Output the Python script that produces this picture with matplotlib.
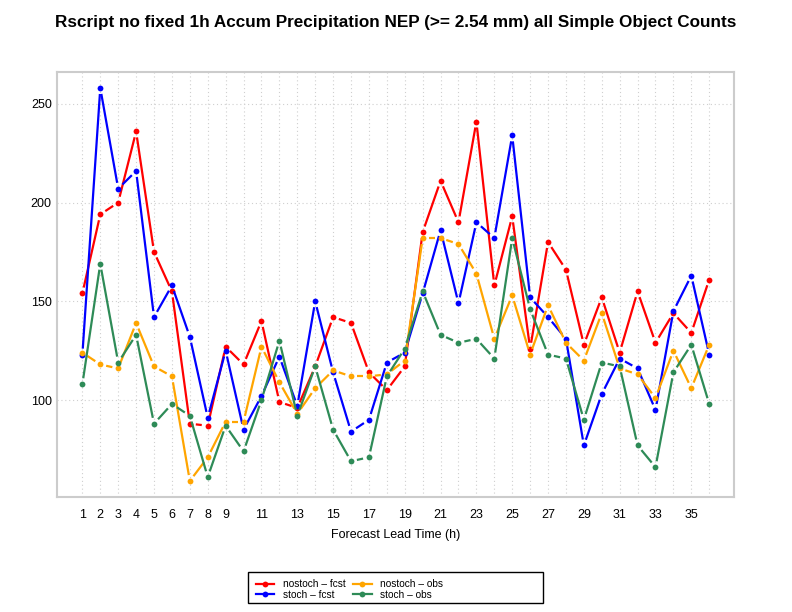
import numpy as np
import matplotlib
matplotlib.use("Agg")
import matplotlib.pyplot as plt
from matplotlib.legend_handler import HandlerLine2D
from matplotlib.patches import Rectangle

plt.rcParams['font.family'] = ['Liberation Sans', 'DejaVu Sans']

title = "Rscript no fixed 1h Accum Precipitation NEP (>= 2.54 mm) all Simple Object Counts"
xlabel = "Forecast Lead Time (h)"

lead = list(range(1, 37))
nostoch_fcst = [154, 194, 200, 236, 175, 155, 88, 87, 127, 118, 140, 99, 96, 117, 142, 139, 114, 105,
                117, 185, 211, 190, 241, 158, 193, 126, 180, 166, 128, 152, 124, 155, 129, 144, 134, 161]
stoch_fcst = [123, 258, 207, 216, 142, 158, 132, 91, 125, 85, 102, 122, 97, 150, 114, 84, 90, 119,
              124, 154, 186, 149, 190, 182, 234, 152, 142, 131, 77, 103, 121, 116, 95, 145, 163, 123]
nostoch_obs = [124, 118, 116, 139, 117, 112, 59, 71, 89, 89, 127, 109, 93, 106, 115, 112, 112, 113,
               120, 182, 182, 179, 164, 131, 153, 123, 148, 129, 120, 144, 116, 113, 101, 125, 106, 128]
stoch_obs = [108, 169, 119, 133, 88, 98, 92, 61, 87, 74, 100, 130, 92, 117, 85, 69, 71, 112,
             126, 155, 133, 129, 131, 121, 182, 146, 123, 121, 90, 119, 117, 77, 66, 114, 128, 98]

series_names = ["nostoch \u2013 fcst", "stoch \u2013 fcst", "nostoch \u2013 obs", "stoch \u2013 obs"]
series_values = [nostoch_fcst, stoch_fcst, nostoch_obs, stoch_obs]
series_colors = ["#FF0000", "#0000FF", "#FFA500", "#2E8B57"]

xtick_labels = ["1", "2", "3", "4", "5", "6", "7", "8", "9", "", "11", "", "13", "", "15", "", "17", "",
                "19", "", "21", "", "23", "", "25", "", "27", "", "29", "", "31", "", "33", "", "35", ""]
yticks = [100, 150, 200, 250]

fig = plt.figure(figsize=(7.92, 6.12), dpi=100)
ax = fig.add_axes([57.3 / 792, 1 - 496.7 / 612, (734.3 - 57.3) / 792, (496.7 - 72.3) / 612])

allv = np.concatenate([np.array(v) for v in series_values])
xr = (min(lead), max(lead))
yr = (allv.min(), allv.max())
ax.set_xlim(xr[0] - 0.04 * (xr[1] - xr[0]), xr[1] + 0.04 * (xr[1] - xr[0]))
ax.set_ylim(yr[0] - 0.04 * (yr[1] - yr[0]), yr[1] + 0.04 * (yr[1] - yr[0]))

ax.set_xticks(lead)
ax.set_xticklabels(xtick_labels)
ax.set_yticks(yticks)
ax.tick_params(length=0, labelsize=9, colors='black')
ax.tick_params(axis='x', pad=9)
ax.tick_params(axis='y', pad=4)
ax.grid(True, linestyle=(0, (1, 2.5)), color='#cfcfcf', linewidth=0.8)
ax.set_axisbelow(True)
for sp in ax.spines.values():
    sp.set_color('#cccccc')
    sp.set_linewidth(1.5)

gap = 6.0  # pixels
lw = 1.6
ms = 4.2
inv = ax.transData.inverted()
for name, vals, col in zip(series_names, series_values, series_colors):
    pts = ax.transData.transform(np.column_stack([lead, vals]))
    for i in range(len(pts) - 1):
        p0, p1 = pts[i], pts[i + 1]
        d = p1 - p0
        L = np.hypot(*d)
        if L <= 2 * gap:
            continue
        u = d / L
        a = inv.transform(p0 + u * gap)
        b = inv.transform(p1 - u * gap)
        ax.plot([a[0], b[0]], [a[1], b[1]], color=col, lw=lw, solid_capstyle='butt')
    ax.plot(lead, vals, linestyle='none', marker='o', color=col, markersize=ms,
            markeredgewidth=0)

fig.text(0.5, 1 - 22 / 612, title, ha='center', va='center', fontsize=12.3, fontweight='bold')
fig.text(0.5, 1 - 535 / 612, xlabel, ha='center', va='center', fontsize=9)


class RightMarker(HandlerLine2D):
    def get_xdata(self, legend, xdescent, ydescent, width, height, fontsize):
        return [-xdescent, -xdescent + width], [-xdescent + width]


handles = [plt.Line2D([], [], color=c, lw=lw, marker='o', markersize=ms, markeredgewidth=0)
           for c in series_colors]
fig.legend(handles, series_names, ncol=2, loc='upper left',
           bbox_to_anchor=(251 / 792, 1 - 574 / 612), frameon=False, fontsize=7.3,
           handlelength=1.8, handletextpad=0.85, columnspacing=0.75, labelspacing=0.05,
           borderpad=0.0, handler_map={plt.Line2D: RightMarker()})
fig.patches.append(Rectangle((248 / 792, 1 - 603 / 612), 295 / 792, 31 / 612,
                             transform=fig.transFigure, fill=False, edgecolor='black', lw=1.0))

fig.savefig("out.png", dpi=100)
